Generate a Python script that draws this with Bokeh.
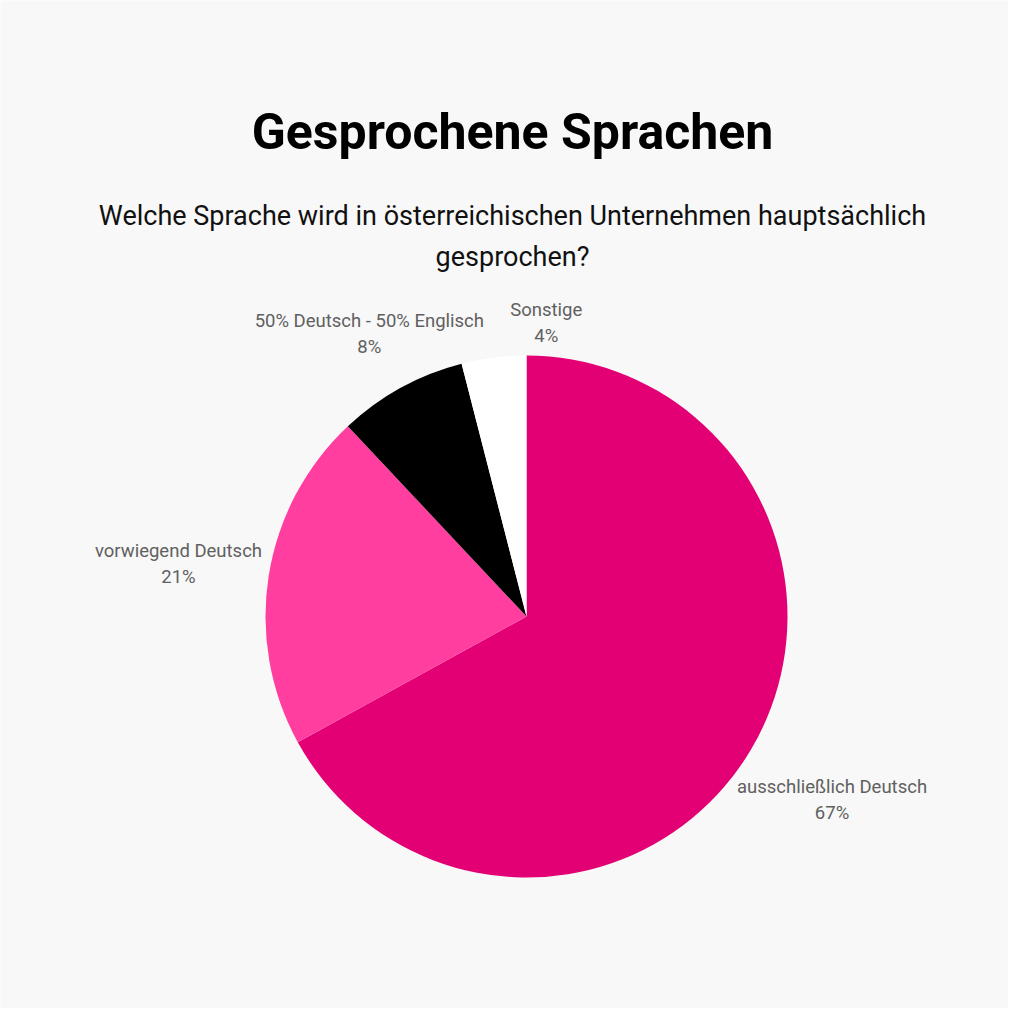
import numpy as np
from bokeh.plotting import figure
from bokeh.models import Range1d
from bokeh.core.properties import value
from bokeh.embed import file_html
from bokeh.resources import INLINE

# Data
categories = ['ausschließlich Deutsch', 'vorwiegend Deutsch', '50% Deutsch - 50% Englisch', 'Sonstige']
shares = [67, 21, 8, 4]
colors = ['#e20074', '#ff3ea0', '#000000', '#ffffff']

title_text = 'Gesprochene Sprachen'
subtitle_lines = ['Welche Sprache wird in österreichischen Unternehmen hauptsächlich', 'gesprochen?']

# Layout (pixels, y measured up from the bottom of the figure)
W = 1008
H = 1008
cx = 526
cy = H - 616
r = 261
label_dist = [1.36, 1.35, 1.25, 1.14]
label_shift = [0.0, 0.0, 0.0, -11.0]
font = 'Roboto'
bg = '#f8f8f8'

# Figure
p = figure(width=W, height=H, x_range=Range1d(0, W), y_range=Range1d(0, H),
           output_backend='svg', toolbar_location=None, min_border=0)
p.axis.visible = False
p.grid.visible = False
p.outline_line_color = None
p.background_fill_color = bg
p.border_fill_color = bg

# Wedges, clockwise from 12 o'clock
frac = np.array(shares) / np.sum(shares)
cum = np.concatenate([[0], np.cumsum(frac)])
start = np.pi / 2 - cum[1:] * 2 * np.pi
end = np.pi / 2 - cum[:-1] * 2 * np.pi
p.wedge(x=cx, y=cy, radius=r, start_angle=start, end_angle=end,
        fill_color=colors, line_color=None)

# Slice labels
mid = (start + end) / 2 + np.radians(label_shift)
lx = cx + np.array(label_dist) * r * np.cos(mid)
ly = cy + np.array(label_dist) * r * np.sin(mid) - 3
p.text(x=lx, y=ly + 13, text=categories, text_align='center', text_baseline='middle',
       text_font=value(font), text_font_size='18.5px', text_color='#606060')
p.text(x=lx, y=ly - 13, text=[str(s) + '%' for s in shares], text_align='center',
       text_baseline='middle', text_font=value(font), text_font_size='18.5px',
       text_color='#606060')

# Title and subtitle
p.text(x=[512], y=[H - 131], text=[title_text], text_align='center',
       text_baseline='middle', text_font=value(font), text_font_size='50px',
       text_font_style='bold', text_color='#000000')
p.text(x=[512, 512], y=[H - 215, H - 256], text=subtitle_lines,
       text_align='center', text_baseline='middle', text_font=value(font),
       text_font_size='27px', text_color='#111111')

open('out.html', 'w').write(file_html(p, INLINE))
